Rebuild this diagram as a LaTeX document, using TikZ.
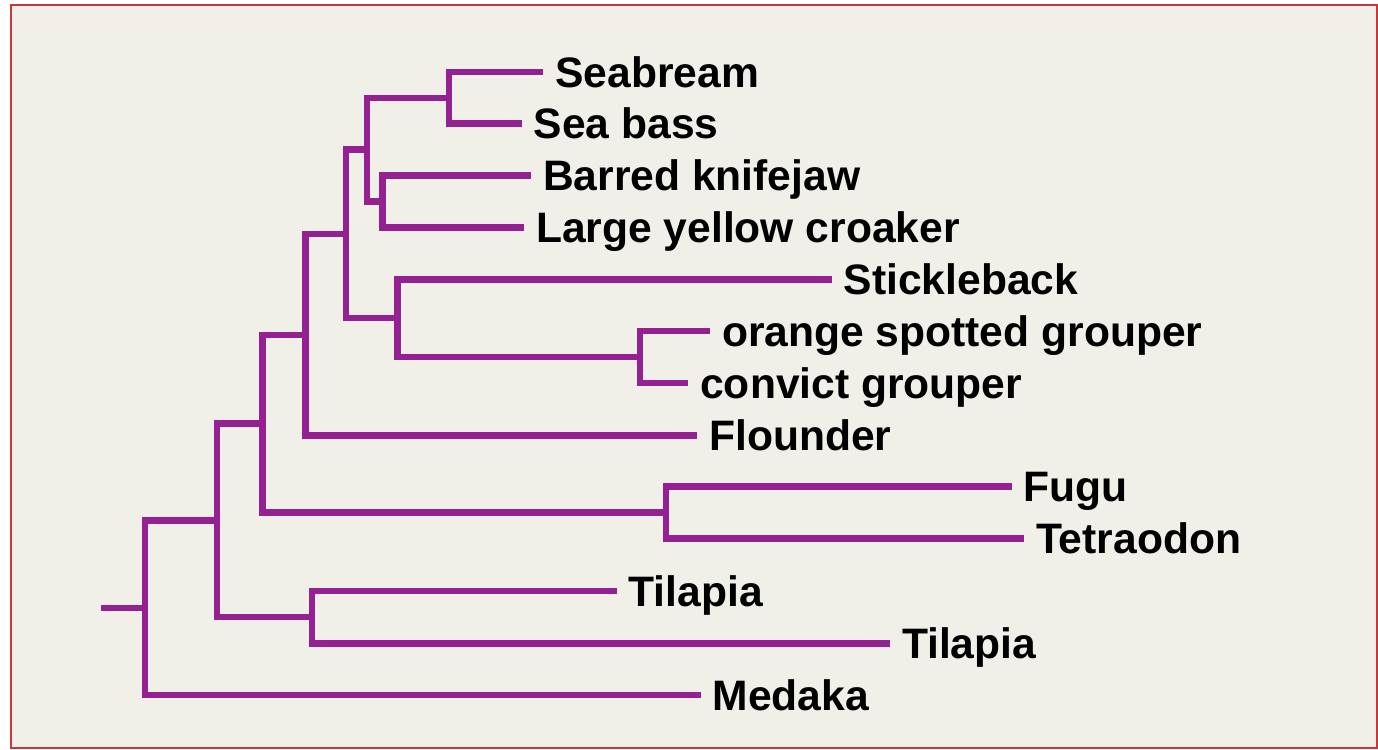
\documentclass[tikz,border=0pt]{standalone}
\usepackage{fontspec}
\setmainfont{Liberation Sans}
\usepackage{tikz}
\definecolor{branchpurple}{RGB}{149,32,145}
\definecolor{panelfill}{RGB}{240,239,232}
\definecolor{framered}{RGB}{200,55,60}

\begin{document}
\begin{tikzpicture}[
  x=0.5pt, y=-0.5pt,
  branch/.style={draw=branchpurple, line width=3.2pt},
  taxon/.style={anchor=west, inner xsep=5.8pt, inner ysep=0pt,
                text height=15.3pt, text depth=0pt,
                font=\fontsize{21.3}{25}\selectfont\bfseries},
]

% -------------------------------------------------------------------------
% Frame
% -------------------------------------------------------------------------
\useasboundingbox (0,0) rectangle (1378,750);
\fill[white] (0,0) rectangle (1378,750);
\draw[framered, fill=panelfill, line width=1pt] (11,5.3) rectangle (1377,748);

% -------------------------------------------------------------------------
% Leaves
% -------------------------------------------------------------------------
\node[taxon] (seabream)   at (543.3,72)   {Seabream};
\node[taxon] (seabass)    at (521.7,123.3) {Sea bass};
\node[taxon] (knifejaw)   at (531,175.5)  {Barred knifejaw};
\node[taxon] (croaker)    at (524,227.5)  {Large yellow croaker};
\node[taxon] (stickleback) at (831.7,279.3) {Stickleback};
\node[taxon] (orangegr)   at (710,331)    {orange spotted grouper};
\node[taxon] (convictgr)  at (688.3,383)  {convict grouper};
\node[taxon] (flounder)   at (697.3,435.5) {Flounder};
\node[taxon] (fugu)       at (1011.7,486.5) {Fugu};
\node[taxon] (tetraodon)  at (1024,538.3) {Tetraodon};
\node[taxon] (tilapiaA)   at (616.7,590.7) {Tilapia};
\node[taxon] (tilapiaB)   at (890,643.3)  {Tilapia};
\node[taxon] (medaka)     at (700.7,695)  {Medaka};

% -------------------------------------------------------------------------
% Internal nodes
% -------------------------------------------------------------------------
\coordinate (nSB)   at (449,97.7);
\coordinate (nBL)   at (382.5,201.5);
\coordinate (nSBBL) at (366.7,149.6);
\coordinate (nGR)   at (639.7,357);
\coordinate (nSTG)  at (397.5,318.2);
\coordinate (nPERC) at (346.2,234);
\coordinate (nFL)   at (305.5,334.7);
\coordinate (nFU)   at (666,512.4);
\coordinate (nA)    at (262.5,423.6);
\coordinate (nTI)   at (311.7,617);
\coordinate (nB)    at (216.7,520.3);
\coordinate (root)  at (145,607.7);
\coordinate (stub)  at (100.7,607.7);

% -------------------------------------------------------------------------
% Branches
% -------------------------------------------------------------------------
\draw[branch] (nSB) |- (seabream.west);
\draw[branch] (nSB) |- (seabass.west);
\draw[branch] (nBL) |- (knifejaw.west);
\draw[branch] (nBL) |- (croaker.west);
\draw[branch] (nSBBL) |- (nSB);
\draw[branch] (nSBBL) |- (nBL);
\draw[branch] (nGR) |- (orangegr.west);
\draw[branch] (nGR) |- (convictgr.west);
\draw[branch] (nSTG) |- (stickleback.west);
\draw[branch] (nSTG) |- (nGR);
\draw[branch] (nPERC) |- (nSBBL);
\draw[branch] (nPERC) |- (nSTG);
\draw[branch] (nFL) |- (nPERC);
\draw[branch] (nFL) |- (flounder.west);
\draw[branch] (nFU) |- (fugu.west);
\draw[branch] (nFU) |- (tetraodon.west);
\draw[branch] (nA) |- (nFL);
\draw[branch] (nA) |- (nFU);
\draw[branch] (nTI) |- (tilapiaA.west);
\draw[branch] (nTI) |- (tilapiaB.west);
\draw[branch] (nB) |- (nA);
\draw[branch] (nB) |- (nTI);
\draw[branch] (root) |- (nB);
\draw[branch] (root) |- (medaka.west);
\draw[branch] (stub) -- (root);

\end{tikzpicture}
\end{document}
